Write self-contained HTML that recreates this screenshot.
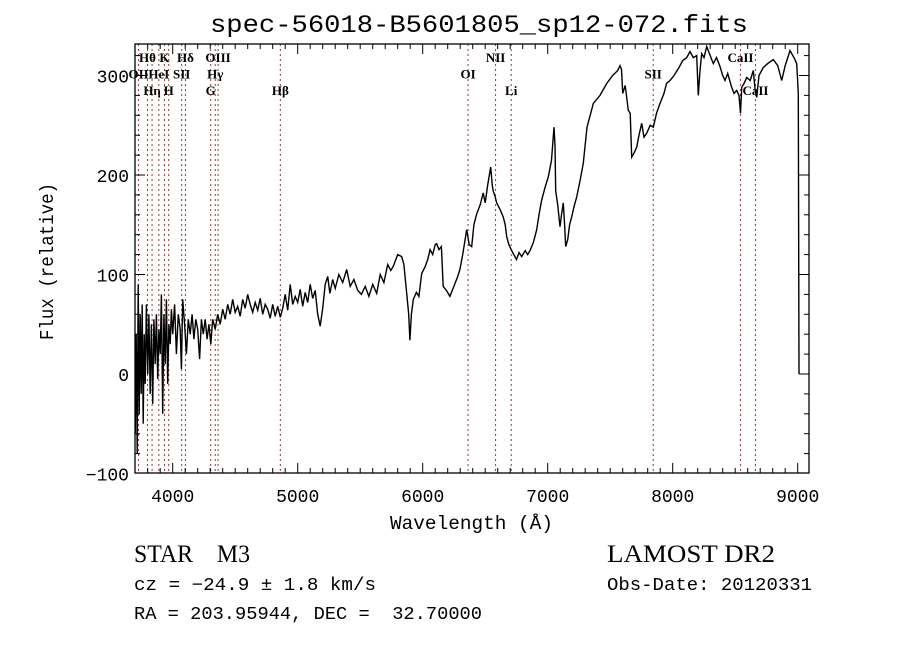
<!DOCTYPE html>
<html><head><meta charset="utf-8"><style>
body{margin:0;background:#fff;}
svg{display:block;font-family:"Liberation Serif","DejaVu Serif",serif;}
</style></head><body>
<svg id="chart" width="900" height="649" viewBox="0 0 900 649" xmlns="http://www.w3.org/2000/svg">
<rect width="900" height="649" fill="#fff"/>
<text x="210" y="32" font-family="Liberation Mono, monospace" font-size="25" textLength="538" lengthAdjust="spacingAndGlyphs">spec-56018-B5601805_sp12-072.fits</text>
<g id="lines"></g>
<g id="axes"></g>
<path id="spec" fill="none" stroke="#000" stroke-width="1.4"/>
<rect x="135" y="44" width="674" height="429" fill="none" stroke="#000" stroke-width="1.3"/>
<text x="390" y="529" font-family="Liberation Mono, monospace" font-size="19" textLength="163" lengthAdjust="spacingAndGlyphs">Wavelength (Å)</text>
<text transform="translate(53,340) rotate(-90)" font-family="Liberation Mono, monospace" font-size="19" textLength="157" lengthAdjust="spacingAndGlyphs">Flux (relative)</text>
<text x="134" y="562" font-size="25" textLength="116" lengthAdjust="spacingAndGlyphs">STAR&#160;&#160;&#160;&#160;M3</text>
<text x="134" y="590" font-family="Liberation Mono, monospace" font-size="18" textLength="242" lengthAdjust="spacingAndGlyphs">cz = −24.9 ± 1.8 km/s</text>
<text x="134" y="619" font-family="Liberation Mono, monospace" font-size="18" textLength="348" lengthAdjust="spacingAndGlyphs">RA = 203.95944, DEC =&#160; 32.70000</text>
<text x="607" y="562" font-size="25" textLength="168" lengthAdjust="spacingAndGlyphs">LAMOST DR2</text>
<text x="607" y="590" font-family="Liberation Mono, monospace" font-size="18" textLength="205" lengthAdjust="spacingAndGlyphs">Obs-Date: 20120331</text>
</svg>
<script>
const wave=[3700,3708,3716,3724,3732,3740,3748,3756,3764,3772,3780,3790,3800,3810,3820,3830,3840,3850,3860,3870,3880,3890,3900,3910,3920,3930,3940,3950,3960,3970,3980,3990,4000,4015,4030,4045,4060,4070,4080,4095,4110,4125,4140,4155,4170,4185,4200,4215,4230,4245,4260,4275,4290,4305,4320,4340,4360,4380,4400,4420,4440,4460,4480,4500,4520,4540,4560,4580,4600,4620,4640,4660,4680,4700,4720,4740,4760,4780,4800,4820,4840,4861,4880,4900,4920,4940,4960,4980,5000,5020,5040,5060,5080,5100,5120,5140,5160,5180,5200,5220,5240,5258,5280,5300,5330,5360,5392,5420,5450,5480,5510,5540,5570,5600,5632,5660,5690,5720,5745,5764,5800,5832,5850,5872,5888,5898,5910,5925,5950,5970,5992,6020,6040,6059,6080,6100,6112,6130,6150,6164,6190,6218,6250,6280,6298,6320,6352,6372,6392,6410,6432,6460,6484,6500,6520,6544,6556,6564,6580,6592,6620,6644,6660,6672,6690,6708,6724,6750,6770,6792,6820,6840,6858,6885,6912,6930,6952,6980,7005,7030,7050,7058,7064,7080,7098,7110,7125,7135,7144,7160,7175,7192,7210,7232,7260,7285,7314,7340,7365,7418,7472,7520,7560,7578,7590,7600,7620,7645,7660,7672,7690,7712,7730,7752,7770,7792,7820,7845,7870,7898,7930,7950,7978,8010,8050,8080,8112,8138,8165,8192,8205,8218,8232,8250,8272,8300,8325,8350,8378,8400,8418,8440,8472,8490,8512,8530,8542,8552,8570,8592,8620,8645,8660,8672,8690,8725,8760,8805,8840,8872,8900,8938,8970,8992,9005,9010];
const flux=[-60,40,-80,90,-40,60,-20,70,-50,40,-10,70,0,60,-20,50,-30,55,10,60,-5,45,20,80,-40,60,10,75,-10,50,30,65,40,70,20,60,45,5,75,50,20,55,40,60,35,55,45,15,55,40,55,35,50,30,55,45,60,50,65,55,70,60,75,62,68,58,75,66,80,70,62,72,64,76,60,70,65,56,70,58,68,57,66,80,64,90,70,78,72,85,68,82,72,90,76,84,60,48,66,90,98,81,95,86,100,92,105,88,95,84,80,88,78,90,81,100,92,110,104,108,120,118,110,81,60,34,60,75,82,78,101,108,115,125,120,130,131,125,128,88,84,78,88,98,105,120,145,130,128,150,161,170,182,172,190,208,190,184,178,172,165,158,150,138,130,125,121,115,122,118,124,120,124,132,145,160,175,188,198,215,248,230,184,170,148,160,172,150,128,135,150,158,168,178,195,212,248,260,272,280,292,300,305,310,306,282,290,265,262,218,222,228,240,252,238,242,250,248,262,272,282,292,295,300,308,315,318,324,318,320,280,305,322,318,329,320,312,318,309,300,295,302,288,282,285,280,262,288,292,298,295,305,285,278,300,308,312,316,310,295,310,325,318,312,282,0];
const lineWaves=[3727,3798,3835,3889,3934,3968,4072,4102,4304,4340,4363,4861,6363,6583,6708,7844,8542,8662];
const lineNames=["OII","Hθ","Hη","HeI","K","H","SII","Hδ","G","Hγ","OIII","Hβ","OI","NII","Li","SII","CaII","CaII"];
const lineRows=[1,0,2,1,0,2,1,0,2,1,0,2,1,0,2,1,0,2];
const xTicks=[4000,5000,6000,7000,8000,9000];
const yTicks=[-100,0,100,200,300];
const X0=135,X1=809,Y0=44,Y1=473;
function xs(w){return 172.7+(w-4000)*0.125;}
function ys(f){return 374-f*0.995;}
const NS="http://www.w3.org/2000/svg";
function mk(t,a,p){const e=document.createElementNS(NS,t);for(const k in a)e.setAttribute(k,a[k]);p.appendChild(e);return e;}
const axes=document.getElementById('axes'),lines=document.getElementById('lines');
let d="";for(let i=0;i<wave.length;i++){d+=(i?"L":"M")+xs(wave[i]).toFixed(1)+" "+Math.max(Y0,Math.min(Y1,ys(flux[i]))).toFixed(1);}
document.getElementById('spec').setAttribute('d',d);
for(let i=0;i<lineWaves.length;i++){
 const x=xs(lineWaves[i]);
 if(x>X0){const l=mk('line',{x1:x,x2:x,y1:Y0,y2:Y1,stroke:'#8b3a3a','stroke-width':1,'stroke-dasharray':'2,3'},lines);
 
 }
 const t=mk('text',{x:x,y:62+lineRows[i]*16.5,'font-size':13,'font-weight':'bold','text-anchor':'middle'},lines);
 t.textContent=lineNames[i];
 
 
}
for(let w=3800;w<=9000;w+=100){const x=xs(w);if(x<X0||x>X1)continue;const L=(w%1000===0)?10:5;
 mk('line',{x1:x,x2:x,y1:Y1,y2:Y1-L,stroke:'#000'},axes);mk('line',{x1:x,x2:x,y1:Y0,y2:Y0+L,stroke:'#000'},axes);}
xTicks.forEach(w=>{const t=mk('text',{x:xs(w),y:502,'font-size':18,'font-family':'Liberation Mono, monospace','text-anchor':'middle'},axes);t.textContent=w;
 
 });
for(let f=-100;f<=320;f+=20){const y=ys(f);if(y<Y0||y>Y1)continue;const L=(f%100===0)?10:5;
 mk('line',{x1:X0,x2:X0+L,y1:y,y2:y,stroke:'#000'},axes);mk('line',{x1:X1,x2:X1-L,y1:y,y2:y,stroke:'#000'},axes);}
yTicks.forEach(f=>{const t=mk('text',{x:129,y:ys(f)+7,'font-size':18,'font-family':'Liberation Mono, monospace','text-anchor':'end'},axes);t.textContent=f===-100?"−100":f;
 
 });
</script>
</body></html>
